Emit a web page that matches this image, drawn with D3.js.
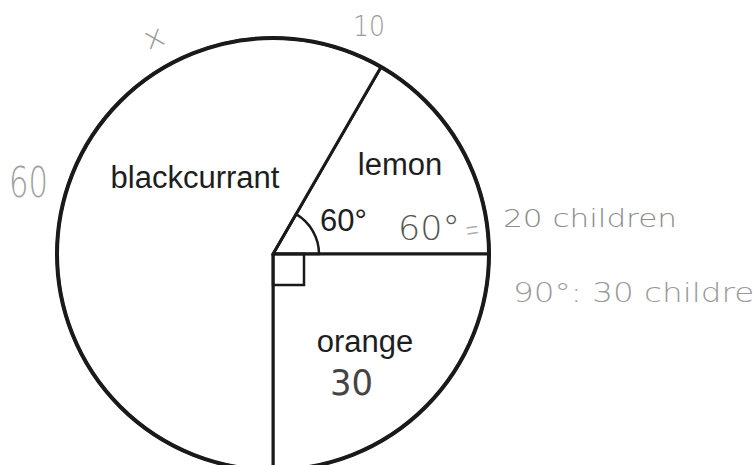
<!DOCTYPE html>
<html>
<head>
<meta charset="utf-8">
<script src="https://cdn.jsdelivr.net/npm/d3@7"></script>
<style>
  body { margin: 0; background: #fff; }
  .label { font-family: "Liberation Sans", Arial, sans-serif; fill: #1e1e1e; }
  .hand { font-family: "DejaVu Sans", sans-serif; }
</style>
</head>
<body>
<svg width="753" height="465"></svg>
<script>
// flavours of drink chosen by children
const flavours = ['lemon', 'orange', 'blackcurrant'];
const children = [20, 30, 70];

// handwritten working on the sheet
const notes = ['x', '10', '60', '60°', '=', '20 children', '90°: 30 children', '30'];

const svg = d3.select('svg');
const width = +svg.attr('width');
const height = +svg.attr('height');

svg.append('rect')
    .attr('width', width)
    .attr('height', height)
    .attr('fill', '#fff');

const cx = 273, cy = 254, radius = 216;

const pie = d3.pie()
    .sort(null)
    .value(d => d)
    .startAngle(Math.PI / 6)
    .endAngle(Math.PI / 6 + 2 * Math.PI);

const slices = pie(children);

const arc = d3.arc()
    .innerRadius(0)
    .outerRadius(radius);

const g = svg.append('g')
    .attr('transform', `translate(${cx},${cy})`);

g.selectAll('.slice')
    .data(slices)
    .enter()
    .append('path')
    .attr('class', 'slice')
    .attr('d', arc)
    .attr('fill', '#fff')
    .attr('stroke', '#1a1a1a')
    .attr('stroke-width', 3)
    .attr('stroke-linejoin', 'round');

// outer rim is drawn a bit heavier
g.append('circle')
    .attr('r', radius)
    .attr('fill', 'none')
    .attr('stroke', '#1a1a1a')
    .attr('stroke-width', 4);

// 60 degree angle mark in the lemon slice
const lemon = slices[0];
g.append('path')
    .attr('d', d3.arc()
        .innerRadius(0)
        .outerRadius(46)
        .startAngle(lemon.startAngle)
        .endAngle(lemon.endAngle)())
    .attr('fill', 'none')
    .attr('stroke', '#1a1a1a')
    .attr('stroke-width', 2.5);

// right angle mark in the orange slice
g.append('rect')
    .attr('x', 0)
    .attr('y', 0)
    .attr('width', 31)
    .attr('height', 31)
    .attr('fill', 'none')
    .attr('stroke', '#1a1a1a')
    .attr('stroke-width', 2.5);

// printed slice names
const labelPos = {
    lemon: [400, 175],
    orange: [365, 352],
    blackcurrant: [195, 188]
};

svg.selectAll('.label')
    .data(flavours)
    .enter()
    .append('text')
    .attr('class', 'label')
    .attr('x', d => labelPos[d][0])
    .attr('y', d => labelPos[d][1])
    .attr('text-anchor', 'middle')
    .attr('font-size', 31)
    .text(d => d);

svg.append('text')
    .attr('class', 'label')
    .attr('x', 320)
    .attr('y', 231)
    .attr('font-size', 31)
    .text(`${Math.round((lemon.endAngle - lemon.startAngle) * 180 / Math.PI)}°`);

// handwriting, placed where it sits on the scan
const hand = [
    { x: 148, y: 50, size: 30, len: 20, fill: '#9a9a9a', rot: -20, w: 200 },
    { x: 353, y: 36, size: 28, len: 32, fill: '#9a9a9a', rot: 0, w: 200 },
    { x: 9, y: 197, size: 42, len: 39, fill: '#a0a0a0', rot: 0, w: 200 },
    { x: 398, y: 240, size: 34, len: 62, fill: '#555', rot: 0, w: 200 },
    { x: 467, y: 243, size: 38, len: 14, fill: '#b0b0b0', rot: -8, w: 200 },
    { x: 503, y: 227, size: 24, len: 174, fill: '#8c8c8c', rot: 0, w: 200 },
    { x: 513, y: 302, size: 26, len: 262, fill: '#9a9a9a', rot: 0, w: 200 },
    { x: 330, y: 395, size: 36, len: 43, fill: '#444', rot: 0, w: 400 }
];

svg.selectAll('.hand')
    .data(notes)
    .enter()
    .append('text')
    .attr('class', 'hand')
    .attr('x', (d, i) => hand[i].x)
    .attr('y', (d, i) => hand[i].y)
    .attr('font-size', (d, i) => hand[i].size)
    .style('font-weight', (d, i) => hand[i].w)
    .attr('fill', (d, i) => hand[i].fill)
    .attr('textLength', (d, i) => hand[i].len)
    .attr('lengthAdjust', 'spacingAndGlyphs')
    .attr('transform', (d, i) => `rotate(${hand[i].rot},${hand[i].x},${hand[i].y})`)
    .text(d => d);
</script>
</body>
</html>
